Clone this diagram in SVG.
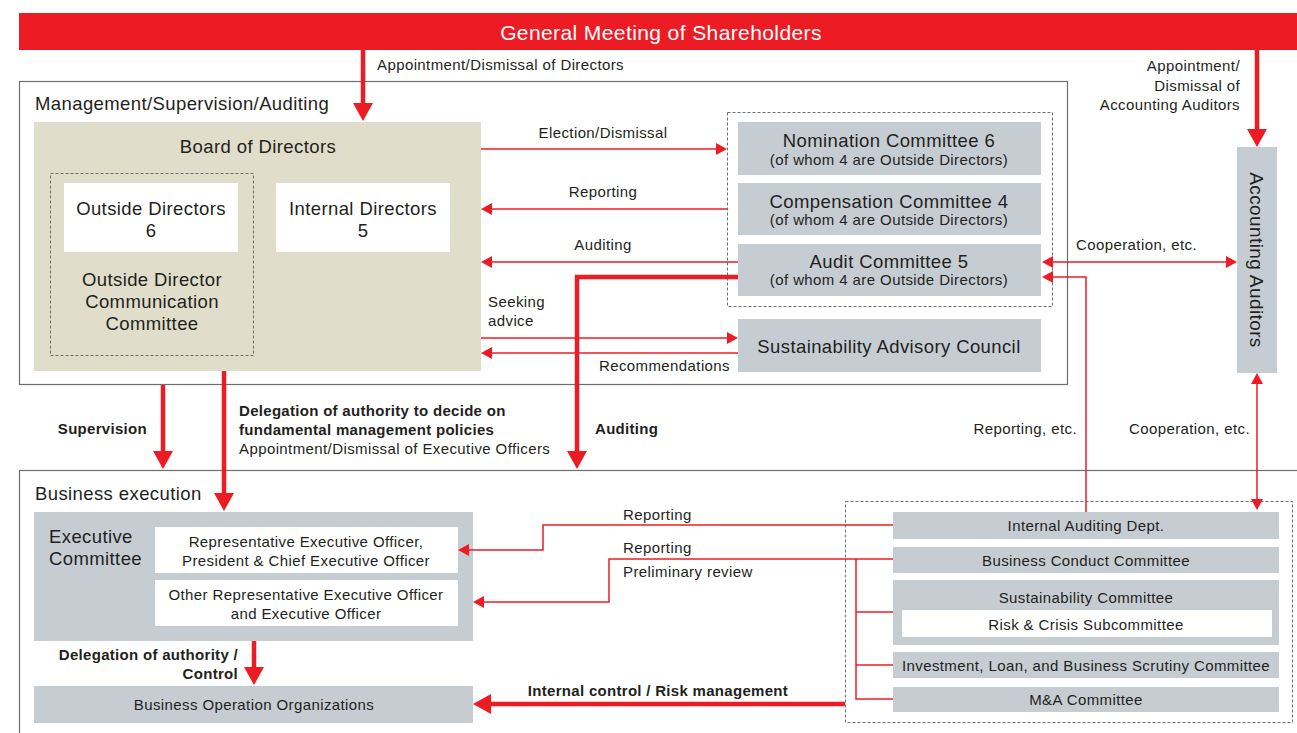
<svg xmlns="http://www.w3.org/2000/svg" width="1297" height="733" viewBox="0 0 1297 733">
<style>
text{font-family:"Liberation Sans",Arial,sans-serif;fill:#231f20;letter-spacing:0.4px}
.t17{font-size:18.5px}
.t14{font-size:15px}
.b{font-weight:bold;letter-spacing:0.3px}
.m{text-anchor:middle}
.e{text-anchor:end}
.gray{fill:#c6cdd2}
.wh{fill:#fff}
.frame{fill:none;stroke:#6d6e71;stroke-width:1.2}
.dash{fill:none;stroke:#6d6e71;stroke-width:1;stroke-dasharray:3 2}
.thick{fill:none;stroke:#ed1c24;stroke-width:4.5}
.thin{fill:none;stroke:#ed1c24;stroke-width:1.5}
</style>
<defs>
<marker id="ah" markerUnits="userSpaceOnUse" markerWidth="18" markerHeight="20" refX="0" refY="10" orient="auto" overflow="visible">
<path d="M0,0 L18,10 L0,20 z" fill="#ed1c24"/>
</marker>
<marker id="as" markerUnits="userSpaceOnUse" markerWidth="11" markerHeight="12" refX="0" refY="6" orient="auto-start-reverse" overflow="visible">
<path d="M0,0 L11,6 L0,12 z" fill="#ed1c24"/>
</marker>
</defs>
<rect width="1297" height="733" fill="#fff"/>

<g id="shareholders">
<rect x="19" y="13" width="1278" height="37" fill="#ed1c24"/>
<text x="661" y="40" class="m" style="font-size:21px;fill:#fff">General Meeting of Shareholders</text>
</g>

<g id="management-frame">
<rect x="19.5" y="81.5" width="1048" height="303" class="frame"/>
<text x="35" y="110" class="t17">Management/Supervision/Auditing</text>
</g>

<g id="business-frame">
<rect x="19.5" y="470.5" width="1300" height="300" class="frame"/>
<text x="35" y="500" class="t17">Business execution</text>
</g>

<g id="board">
<rect x="34" y="122" width="447" height="249" fill="#e0ddca"/>
<text x="258" y="153" class="t17 m">Board of Directors</text>
<rect x="50.5" y="173.5" width="203" height="182" class="dash"/>
<rect x="64" y="183" width="174" height="69" class="wh"/>
<text x="151" y="215" class="t17 m">Outside Directors</text>
<text x="151" y="237" class="t17 m">6</text>
<rect x="276" y="183" width="174" height="69" class="wh"/>
<text x="363" y="215" class="t17 m">Internal Directors</text>
<text x="363" y="237" class="t17 m">5</text>
<text x="152" y="286" class="t17 m">Outside Director</text>
<text x="152" y="308" class="t17 m">Communication</text>
<text x="152" y="330" class="t17 m">Committee</text>
</g>

<g id="committees">
<rect x="727.5" y="112.5" width="325" height="194" class="dash"/>
<rect x="738" y="122" width="303" height="53" class="gray"/>
<text x="889" y="147" class="t17 m">Nomination Committee 6</text>
<text x="889" y="165" class="t14 m">(of whom 4 are Outside Directors)</text>
<rect x="738" y="183" width="303" height="52" class="gray"/>
<text x="889" y="208" class="t17 m">Compensation Committee 4</text>
<text x="889" y="225" class="t14 m">(of whom 4 are Outside Directors)</text>
<rect x="738" y="244" width="303" height="52" class="gray"/>
<text x="889" y="268" class="t17 m">Audit Committee 5</text>
<text x="889" y="285" class="t14 m">(of whom 4 are Outside Directors)</text>
</g>

<g id="advisory">
<rect x="738" y="319" width="303" height="53" class="gray"/>
<text x="889" y="353" class="t17 m">Sustainability Advisory Council</text>
</g>

<g id="accounting-auditors">
<rect x="1237" y="147" width="40" height="226" class="gray"/>
<text transform="translate(1257,260) rotate(90)" x="0" y="7" class="m" style="font-size:19px">Accounting Auditors</text>
</g>

<g id="executive">
<rect x="34" y="512" width="439" height="129" class="gray"/>
<text x="49" y="543" class="t17">Executive</text>
<text x="49" y="565" class="t17">Committee</text>
<rect x="155" y="527" width="303" height="46" class="wh"/>
<text x="306" y="547" class="t14 m">Representative Executive Officer,</text>
<text x="306" y="566" class="t14 m">President &amp; Chief Executive Officer</text>
<rect x="155" y="580" width="303" height="46" class="wh"/>
<text x="306" y="600" class="t14 m">Other Representative Executive Officer</text>
<text x="306" y="619" class="t14 m">and Executive Officer</text>
</g>

<g id="operations">
<rect x="34" y="686" width="439" height="37" class="gray"/>
<text x="254" y="710" class="t14 m">Business Operation Organizations</text>
</g>

<g id="internal-bodies">
<rect x="845.5" y="501.5" width="447" height="221" class="dash"/>
<rect x="893" y="512" width="386" height="27" class="gray"/>
<text x="1086" y="531" class="t14 m">Internal Auditing Dept.</text>
<rect x="893" y="547" width="386" height="26" class="gray"/>
<text x="1086" y="566" class="t14 m">Business Conduct Committee</text>
<rect x="893" y="580" width="386" height="65" class="gray"/>
<text x="1086" y="603" class="t14 m">Sustainability Committee</text>
<rect x="902" y="610" width="370" height="27" class="wh"/>
<text x="1086" y="630" class="t14 m">Risk &amp; Crisis Subcommittee</text>
<rect x="893" y="652" width="386" height="26" class="gray"/>
<text x="1086" y="671" class="t14 m">Investment, Loan, and Business Scrutiny Committee</text>
<rect x="893" y="687" width="386" height="25" class="gray"/>
<text x="1086" y="705" class="t14 m">M&amp;A Committee</text>
</g>

<g id="connectors">
<line x1="363" y1="50" x2="363" y2="103" class="thick" marker-end="url(#ah)"/>
<line x1="1257" y1="50" x2="1257" y2="129" class="thick" marker-end="url(#ah)"/>
<line x1="163" y1="385" x2="163" y2="451" class="thick" marker-end="url(#ah)"/>
<line x1="224" y1="371" x2="224" y2="493" class="thick" marker-end="url(#ah)"/>
<path d="M738,277 H577 V451" class="thick" marker-end="url(#ah)"/>
<line x1="254" y1="641" x2="254" y2="667" class="thick" marker-end="url(#ah)"/>
<line x1="845" y1="704" x2="491" y2="704" class="thick" marker-end="url(#ah)"/>
<line x1="481" y1="149" x2="716" y2="149" class="thin" marker-end="url(#as)"/>
<line x1="727" y1="209" x2="492" y2="209" class="thin" marker-end="url(#as)"/>
<line x1="738" y1="262" x2="492" y2="262" class="thin" marker-end="url(#as)"/>
<line x1="481" y1="338" x2="727" y2="338" class="thin" marker-end="url(#as)"/>
<line x1="738" y1="353" x2="492" y2="353" class="thin" marker-end="url(#as)"/>
<line x1="1053" y1="262" x2="1226" y2="262" class="thin" marker-start="url(#as)" marker-end="url(#as)"/>
<path d="M1086,512 V277 H1053" class="thin" marker-end="url(#as)"/>
<line x1="1257" y1="384" x2="1257" y2="499" class="thin" marker-start="url(#as)" marker-end="url(#as)"/>
<path d="M893,525 H543 V550 H469" class="thin" marker-end="url(#as)"/>
<path d="M893,559 H609 V602 H484" class="thin" marker-end="url(#as)"/>
<path d="M856,559 V699 H893 M856,612 H893 M856,665 H893" class="thin"/>
</g>

<g id="labels">
<text x="377" y="70" class="t14">Appointment/Dismissal of Directors</text>
<text x="1240" y="71" class="t14 e">Appointment/</text>
<text x="1240" y="91" class="t14 e">Dismissal of</text>
<text x="1240" y="110" class="t14 e">Accounting Auditors</text>
<text x="603" y="138" class="t14 m">Election/Dismissal</text>
<text x="603" y="197" class="t14 m">Reporting</text>
<text x="603" y="250" class="t14 m">Auditing</text>
<text x="488" y="307" class="t14">Seeking</text>
<text x="488" y="326" class="t14">advice</text>
<text x="730" y="371" class="t14 e">Recommendations</text>
<text x="1076" y="250" class="t14">Cooperation, etc.</text>
<text x="147" y="434" class="t14 b e">Supervision</text>
<text x="239" y="416" class="t14 b">Delegation of authority to decide on</text>
<text x="239" y="435" class="t14 b">fundamental management policies</text>
<text x="239" y="454" class="t14">Appointment/Dismissal of Executive Officers</text>
<text x="595" y="434" class="t14 b">Auditing</text>
<text x="1077" y="434" class="t14 e">Reporting, etc.</text>
<text x="1250" y="434" class="t14 e">Cooperation, etc.</text>
<text x="238" y="660" class="t14 b e">Delegation of authority /</text>
<text x="238" y="679" class="t14 b e">Control</text>
<text x="658" y="696" class="t14 b m">Internal control / Risk management</text>
<text x="623" y="520" class="t14">Reporting</text>
<text x="623" y="553" class="t14">Reporting</text>
<text x="623" y="577" class="t14">Preliminary review</text>
</g>
</svg>
